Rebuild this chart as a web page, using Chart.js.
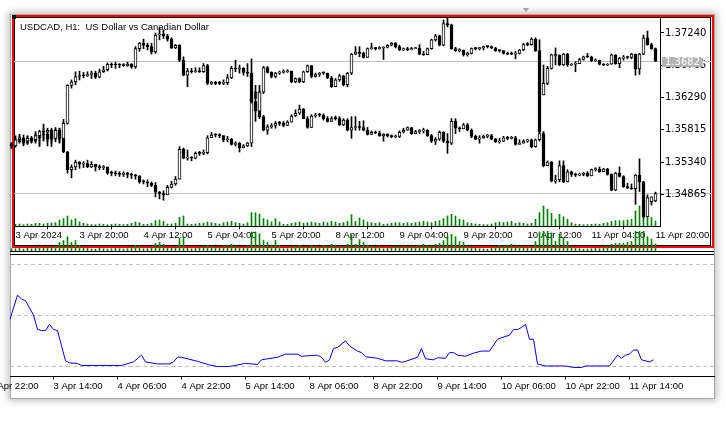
<!DOCTYPE html>
<html><head><meta charset="utf-8">
<script src="https://cdn.jsdelivr.net/npm/chart.js@4.4.1/dist/chart.umd.min.js"></script>
<style>
html,body{margin:0;padding:0;background:#fff;width:725px;height:439px;overflow:hidden;}
#stage{position:relative;width:725px;height:439px;}
.abs{position:absolute;box-sizing:border-box;}
#win{left:10px;top:14px;width:705px;height:385px;background:#fff;box-shadow:0 0 7px 2px rgba(0,0,0,0.25);border:1px solid #a8a8a8;}
#red{left:12px;top:15px;width:702px;height:233px;border:2px solid #f00;}
#blk{left:14px;top:17px;width:697px;height:229px;border:1px solid #000;}
#sq{left:12px;top:15px;width:4px;height:4px;background:#000;}
.sep{left:10px;width:704px;height:1px;background:#000;}
#tri{left:523px;top:8px;width:0;height:0;border-left:3px solid transparent;border-right:3px solid transparent;border-top:4px solid #a0a0a0;}
canvas{position:absolute;left:0;top:0;}
</style></head>
<body><div id="stage">
<div class="abs" id="win"></div>
<div class="abs" id="tri"></div>
<div class="abs" id="red"></div>
<div class="abs" id="blk"></div>
<div class="abs" id="sq"></div>
<div class="abs sep" style="top:251px"></div>
<div class="abs sep" style="top:254px"></div>
<canvas id="cMain" width="725" height="439" style="z-index:2"></canvas>
<canvas id="cLow" width="725" height="439" style="z-index:2"></canvas>
<canvas id="cVol" width="725" height="439" style="z-index:3"></canvas>
</div>
<script>
const chartTitle = 'USDCAD, H1:  US Dollar vs Canadian Dollar';
const topTickIdx = [1,17,33,49,65,81,97,113,129,145,161];
const topTickLabels = ['3 Apr 2024','3 Apr 20:00','4 Apr 12:00','5 Apr 04:00','5 Apr 20:00','8 Apr 12:00','9 Apr 04:00','9 Apr 20:00','10 Apr 12:00','11 Apr 04:00','11 Apr 20:00'];
const priceTicks = [1.34865,1.35340,1.35815,1.36290,1.36765,1.37240];
const lowTickIdx = [-5,11,27,43,59,75,91,107,123,139,155];
const lowTickLabels = ['2 Apr 22:00','3 Apr 14:00','4 Apr 06:00','4 Apr 22:00','5 Apr 14:00','8 Apr 06:00','8 Apr 22:00','9 Apr 14:00','10 Apr 06:00','10 Apr 22:00','11 Apr 14:00'];
const levelLines = [1,2,3];

const uOpen = [1.3560,1.3558,1.3567,1.3570,1.3565,1.3569,1.3567,1.3573,1.3579,1.3578,
1.3581,1.3569,1.3581,1.3569,1.3591,1.3647,1.3652,1.3660,1.3661,1.3661,
1.3663,1.3665,1.3659,1.3667,1.3670,1.3678,1.3677,1.3677,1.3677,1.3676,
1.3678,1.3674,1.3701,1.3709,1.3706,1.3704,1.3696,1.3721,1.3722,1.3720,
1.3715,1.3702,1.3706,1.3684,1.3662,1.3668,1.3667,1.3668,1.3667,1.3676,
1.3650,1.3651,1.3650,1.3650,1.3651,1.3658,1.3672,1.3671,1.3672,1.3666,
1.3665,1.3623,1.3609,1.3637,1.3673,1.3666,1.3660,1.3665,1.3666,1.3667,
1.3668,1.3652,1.3657,1.3652,1.3667,1.3676,1.3660,1.3663,1.3665,1.3665,
1.3658,1.3645,1.3655,1.3661,1.3648,1.3665,1.3693,1.3696,1.3694,1.3688,
1.3701,1.3702,1.3701,1.3702,1.3703,1.3706,1.3709,1.3704,1.3699,1.3701,
1.3699,1.3701,1.3702,1.3693,1.3692,1.3701,1.3714,1.3720,1.3706,1.3738,
1.3736,1.3701,1.3698,1.3699,1.3692,1.3694,1.3701,1.3701,1.3702,1.3704,
1.3704,1.3702,1.3698,1.3698,1.3694,1.3693,1.3693,1.3694,1.3699,1.3707,
1.3707,1.3715,1.3698,1.3633,1.3650,1.3672,1.3692,1.3691,1.3677,1.3693,
1.3677,1.3678,1.3679,1.3685,1.3689,1.3689,1.3683,1.3684,1.3678,1.3677,
1.3678,1.3692,1.3679,1.3687,1.3688,1.3688,1.3693,1.3671,1.3693,1.3717,
1.3707,1.3701];
const uHigh = [1.3562,1.3573,1.3575,1.3574,1.3573,1.3572,1.3579,1.3581,1.3590,1.3584,
1.3584,1.3585,1.3584,1.3597,1.3648,1.3655,1.3667,1.3668,1.3666,1.3667,
1.3668,1.3668,1.3671,1.3675,1.3680,1.3680,1.3681,1.3679,1.3679,1.3681,
1.3679,1.3704,1.3710,1.3715,1.3709,1.3709,1.3724,1.3732,1.3728,1.3722,
1.3717,1.3707,1.3707,1.3689,1.3672,1.3672,1.3673,1.3673,1.3679,1.3678,
1.3653,1.3653,1.3653,1.3655,1.3663,1.3675,1.3684,1.3677,1.3673,1.3679,
1.3686,1.3638,1.3647,1.3675,1.3675,1.3667,1.3666,1.3668,1.3670,1.3670,
1.3668,1.3658,1.3658,1.3668,1.3677,1.3676,1.3665,1.3666,1.3667,1.3665,
1.3660,1.3657,1.3663,1.3662,1.3666,1.3694,1.3704,1.3704,1.3696,1.3702,
1.3709,1.3703,1.3704,1.3704,1.3707,1.3710,1.3710,1.3706,1.3702,1.3703,
1.3703,1.3703,1.3707,1.3697,1.3702,1.3715,1.3722,1.3721,1.3743,1.3746,
1.3737,1.3703,1.3701,1.3699,1.3696,1.3702,1.3703,1.3703,1.3705,1.3705,
1.3705,1.3703,1.3699,1.3698,1.3696,1.3696,1.3697,1.3700,1.3709,1.3710,
1.3717,1.3717,1.3714,1.3677,1.3675,1.3693,1.3702,1.3692,1.3694,1.3694,
1.3679,1.3682,1.3687,1.3690,1.3694,1.3690,1.3686,1.3684,1.3679,1.3679,
1.3693,1.3692,1.3688,1.3691,1.3690,1.3694,1.3693,1.3694,1.3721,1.3727,
1.3709,1.3702];
const uLow = [1.3554,1.3556,1.3564,1.3560,1.3562,1.3563,1.3562,1.3557,1.3567,1.3564,
1.3557,1.3564,1.3562,1.3567,1.3590,1.3643,1.3648,1.3655,1.3658,1.3660,
1.3657,1.3657,1.3658,1.3666,1.3668,1.3673,1.3672,1.3673,1.3675,1.3675,
1.3672,1.3672,1.3697,1.3701,1.3699,1.3693,1.3694,1.3714,1.3716,1.3712,
1.3701,1.3701,1.3682,1.3661,1.3645,1.3665,1.3666,1.3666,1.3666,1.3648,
1.3648,1.3648,1.3648,1.3648,1.3648,1.3657,1.3667,1.3665,1.3662,1.3660,
1.3621,1.3594,1.3603,1.3635,1.3665,1.3658,1.3658,1.3663,1.3665,1.3666,
1.3651,1.3651,1.3651,1.3651,1.3666,1.3658,1.3659,1.3660,1.3663,1.3657,
1.3644,1.3645,1.3653,1.3646,1.3645,1.3663,1.3692,1.3689,1.3687,1.3688,
1.3700,1.3699,1.3700,1.3685,1.3702,1.3705,1.3702,1.3698,1.3698,1.3698,
1.3699,1.3701,1.3692,1.3691,1.3692,1.3700,1.3712,1.3705,1.3705,1.3733,
1.3700,1.3697,1.3696,1.3690,1.3690,1.3693,1.3699,1.3699,1.3699,1.3702,
1.3701,1.3697,1.3696,1.3693,1.3692,1.3692,1.3686,1.3693,1.3698,1.3705,
1.3706,1.3697,1.3578,1.3633,1.3648,1.3671,1.3677,1.3676,1.3676,1.3675,
1.3676,1.3667,1.3679,1.3684,1.3688,1.3682,1.3682,1.3677,1.3676,1.3676,
1.3678,1.3678,1.3673,1.3684,1.3686,1.3686,1.3662,1.3663,1.3692,1.3706,
1.3700,1.3682];
const uClose = [1.3558,1.3567,1.3570,1.3565,1.3569,1.3567,1.3573,1.3579,1.3578,1.3581,
1.3569,1.3581,1.3569,1.3591,1.3647,1.3652,1.3660,1.3661,1.3661,1.3663,
1.3665,1.3659,1.3667,1.3670,1.3678,1.3677,1.3677,1.3677,1.3676,1.3678,
1.3674,1.3701,1.3709,1.3706,1.3704,1.3696,1.3721,1.3722,1.3720,1.3715,
1.3702,1.3706,1.3684,1.3662,1.3668,1.3667,1.3668,1.3667,1.3676,1.3650,
1.3651,1.3650,1.3650,1.3651,1.3658,1.3672,1.3671,1.3672,1.3666,1.3665,
1.3623,1.3609,1.3637,1.3673,1.3666,1.3660,1.3665,1.3666,1.3667,1.3668,
1.3652,1.3657,1.3652,1.3667,1.3676,1.3660,1.3663,1.3665,1.3665,1.3658,
1.3645,1.3655,1.3661,1.3648,1.3665,1.3693,1.3696,1.3694,1.3688,1.3701,
1.3702,1.3701,1.3702,1.3703,1.3706,1.3709,1.3704,1.3699,1.3701,1.3699,
1.3701,1.3702,1.3693,1.3692,1.3701,1.3714,1.3720,1.3706,1.3738,1.3736,
1.3701,1.3698,1.3699,1.3692,1.3694,1.3701,1.3701,1.3702,1.3704,1.3704,
1.3702,1.3698,1.3698,1.3694,1.3693,1.3693,1.3694,1.3699,1.3707,1.3707,
1.3715,1.3698,1.3579,1.3650,1.3672,1.3692,1.3691,1.3677,1.3693,1.3677,
1.3678,1.3679,1.3685,1.3689,1.3689,1.3683,1.3684,1.3678,1.3677,1.3678,
1.3692,1.3679,1.3687,1.3688,1.3688,1.3693,1.3671,1.3693,1.3717,1.3707,
1.3701,1.36827];

const lOpen = [1.3560,1.3559,1.3564,1.3568,1.3562,1.3567,1.3565,1.3570,1.3574,1.3575,
1.3568,1.3572,1.3576,1.3568,1.3549,1.3523,1.3527,1.3534,1.3531,1.3532,
1.3527,1.3531,1.3527,1.3526,1.3527,1.3518,1.3518,1.3517,1.3516,1.3517,
1.3516,1.3515,1.3514,1.3505,1.3505,1.3503,1.3500,1.3490,1.3488,1.3486,
1.3497,1.3502,1.3509,1.3553,1.3540,1.3541,1.3540,1.3547,1.3547,1.3548,
1.3570,1.3574,1.3574,1.3573,1.3567,1.3568,1.3560,1.3562,1.3555,1.3558,
1.3562,1.3628,1.3637,1.3601,1.3581,1.3586,1.3588,1.3591,1.3591,1.3588,
1.3593,1.3602,1.3606,1.3612,1.3598,1.3585,1.3602,1.3603,1.3603,1.3598,
1.3594,1.3598,1.3598,1.3589,1.3596,1.3581,1.3585,1.3586,1.3585,1.3581,
1.3575,1.3578,1.3577,1.3573,1.3575,1.3573,1.3571,1.3572,1.3578,1.3581,
1.3585,1.3576,1.3579,1.3580,1.3581,1.3573,1.3565,1.3568,1.3578,1.3565,
1.3562,1.3594,1.3584,1.3583,1.3589,1.3581,1.3572,1.3568,1.3570,1.3572,
1.3573,1.3568,1.3564,1.3565,1.3570,1.3569,1.3570,1.3560,1.3562,1.3565,
1.3567,1.3557,1.3567,1.3576,1.3529,1.3534,1.3506,1.3508,1.3529,1.3505,
1.3520,1.3516,1.3515,1.3516,1.3518,1.3514,1.3523,1.3524,1.3520,1.3524,
1.3516,1.3493,1.3518,1.3513,1.3498,1.3496,1.3495,1.3515,1.3505,1.3454,
1.3476,1.3477];
const lHigh = [1.3563,1.3570,1.3573,1.3569,1.3572,1.3570,1.3576,1.3578,1.3584,1.3579,
1.3581,1.3583,1.3584,1.3570,1.3550,1.3530,1.3537,1.3535,1.3535,1.3537,
1.3535,1.3531,1.3530,1.3529,1.3527,1.3521,1.3521,1.3520,1.3520,1.3519,
1.3518,1.3516,1.3514,1.3508,1.3508,1.3505,1.3504,1.3491,1.3492,1.3500,
1.3506,1.3513,1.3557,1.3555,1.3552,1.3542,1.3549,1.3550,1.3552,1.3573,
1.3578,1.3576,1.3576,1.3573,1.3572,1.3569,1.3564,1.3563,1.3560,1.3563,
1.3648,1.3647,1.3639,1.3603,1.3589,1.3591,1.3594,1.3594,1.3594,1.3595,
1.3604,1.3611,1.3618,1.3613,1.3601,1.3604,1.3606,1.3606,1.3605,1.3601,
1.3601,1.3602,1.3601,1.3598,1.3598,1.3601,1.3601,1.3594,1.3595,1.3585,
1.3580,1.3580,1.3580,1.3576,1.3576,1.3574,1.3574,1.3580,1.3584,1.3586,
1.3585,1.3581,1.3582,1.3584,1.3582,1.3575,1.3570,1.3580,1.3579,1.3576,
1.3598,1.3598,1.3586,1.3591,1.3591,1.3583,1.3574,1.3573,1.3574,1.3575,
1.3575,1.3569,1.3569,1.3572,1.3572,1.3572,1.3572,1.3567,1.3567,1.3568,
1.3568,1.3568,1.3579,1.3579,1.3536,1.3535,1.3515,1.3536,1.3536,1.3523,
1.3521,1.3518,1.3518,1.3519,1.3520,1.3524,1.3526,1.3527,1.3525,1.3525,
1.3517,1.3519,1.3527,1.3514,1.3503,1.3502,1.3516,1.3539,1.3506,1.3486,
1.3483,1.3490];
const lLow = [1.3555,1.3559,1.3562,1.3558,1.3560,1.3562,1.3564,1.3559,1.3565,1.3558,
1.3562,1.3567,1.3563,1.3548,1.3518,1.3511,1.3523,1.3525,1.3526,1.3526,
1.3526,1.3521,1.3523,1.3523,1.3516,1.3514,1.3514,1.3513,1.3513,1.3511,
1.3510,1.3509,1.3503,1.3502,1.3498,1.3498,1.3483,1.3480,1.3478,1.3486,
1.3496,1.3500,1.3509,1.3539,1.3537,1.3536,1.3539,1.3544,1.3545,1.3546,
1.3570,1.3571,1.3570,1.3564,1.3564,1.3559,1.3558,1.3549,1.3555,1.3557,
1.3557,1.3628,1.3598,1.3580,1.3575,1.3584,1.3584,1.3588,1.3586,1.3588,
1.3593,1.3601,1.3604,1.3598,1.3584,1.3585,1.3600,1.3601,1.3596,1.3593,
1.3594,1.3596,1.3588,1.3588,1.3580,1.3569,1.3581,1.3581,1.3580,1.3574,
1.3575,1.3576,1.3572,1.3565,1.3571,1.3570,1.3570,1.3570,1.3577,1.3581,
1.3575,1.3576,1.3576,1.3577,1.3572,1.3563,1.3560,1.3566,1.3563,1.3547,
1.3560,1.3576,1.3579,1.3583,1.3580,1.3570,1.3567,1.3562,1.3569,1.3570,
1.3567,1.3563,1.3562,1.3564,1.3567,1.3568,1.3559,1.3560,1.3562,1.3563,
1.3555,1.3556,1.3565,1.3527,1.3529,1.3505,1.3503,1.3505,1.3504,1.3505,
1.3513,1.3513,1.3514,1.3514,1.3513,1.3514,1.3521,1.3519,1.3520,1.3515,
1.3492,1.3492,1.3512,1.3497,1.3495,1.3494,1.3472,1.3491,1.3452,1.3454,
1.3471,1.3476];
const lClose = [1.3559,1.3564,1.3568,1.3562,1.3567,1.3565,1.3570,1.3574,1.3575,1.3568,
1.3572,1.3576,1.3568,1.3549,1.3523,1.3527,1.3534,1.3531,1.3532,1.3527,
1.3531,1.3527,1.3526,1.3527,1.3518,1.3518,1.3517,1.3516,1.3517,1.3516,
1.3515,1.3514,1.3505,1.3505,1.3503,1.3500,1.3490,1.3488,1.3486,1.3497,
1.3502,1.3509,1.3553,1.3540,1.3541,1.3540,1.3547,1.3547,1.3548,1.3570,
1.3574,1.3574,1.3573,1.3567,1.3568,1.3560,1.3562,1.3555,1.3558,1.3562,
1.3628,1.3637,1.3601,1.3581,1.3586,1.3588,1.3591,1.3591,1.3588,1.3593,
1.3602,1.3606,1.3612,1.3598,1.3585,1.3602,1.3603,1.3603,1.3598,1.3594,
1.3598,1.3598,1.3589,1.3596,1.3581,1.3585,1.3586,1.3585,1.3581,1.3575,
1.3578,1.3577,1.3573,1.3575,1.3573,1.3571,1.3572,1.3578,1.3581,1.3585,
1.3576,1.3579,1.3580,1.3581,1.3573,1.3565,1.3568,1.3578,1.3565,1.3562,
1.3594,1.3584,1.3583,1.3589,1.3581,1.3572,1.3568,1.3570,1.3572,1.3573,
1.3568,1.3564,1.3565,1.3570,1.3569,1.3570,1.3560,1.3562,1.3565,1.3567,
1.3557,1.3567,1.3576,1.3529,1.3534,1.3506,1.3508,1.3529,1.3505,1.3520,
1.3516,1.3515,1.3516,1.3518,1.3514,1.3523,1.3524,1.3520,1.3524,1.3516,
1.3493,1.3518,1.3513,1.3498,1.3496,1.3495,1.3515,1.3505,1.3454,1.3482,
1.3483,1.3488];

const tickVolume = [500,500,600,400,600,500,800,800,600,800,
900,1000,1800,2200,3000,1800,2200,1200,800,600,
400,400,600,500,400,500,600,500,400,500,
800,1200,1000,500,500,800,1600,1800,1400,600,
600,800,2600,3000,600,500,600,800,900,1200,
1000,800,600,1000,1200,1400,1000,800,600,1000,
4000,4000,3600,2200,1800,1200,2200,1200,500,500,
800,1000,1200,800,1000,1200,1000,800,1200,1000,
1400,1200,800,1000,1400,3400,1400,2400,1800,1200,
1000,800,1000,500,600,800,1000,1000,800,1000,
800,1000,1200,1400,1200,1000,1400,1600,2200,3000,
3500,3000,2000,1800,1000,800,600,500,400,400,
600,1000,1200,1000,1200,1400,800,1000,800,600,
800,2000,4000,6000,5000,3800,2000,3500,2800,2000,
1000,600,500,400,400,500,600,500,800,1000,
1400,1600,1600,1600,1800,2000,4500,6000,4500,3000,
2500,1500];

const indBar = [0,2,3,4,6,7,8,9,10,11,12,14,15,17,18,28,31,33,34,37,40,41,42,43,47,50,52,55,59,62,63,67,69,72,73,77,78,79,80,81,82,84,85,87,88,89,92,94,97,98,99,102,103,104,106,107,109,110,111,112,114,116,118,120,122,123,125,126,127,128,129,130,131,132,134,139,141,143,144,150,152,153,154,155,156,157,158,160,161];
const indValue = [1.90,2.40,2.32,2.29,2.01,1.73,1.71,1.71,1.83,1.73,1.71,1.12,1.08,1.07,1.03,1.03,1.10,1.23,1.10,1.06,1.06,1.10,1.19,1.19,1.11,1.04,1.01,1.01,1.07,1.05,1.14,1.19,1.25,1.25,1.21,1.23,1.19,1.09,1.14,1.36,1.38,1.51,1.41,1.31,1.28,1.20,1.17,1.12,1.12,1.09,1.11,1.19,1.36,1.16,1.14,1.18,1.17,1.28,1.28,1.23,1.21,1.27,1.31,1.31,1.54,1.57,1.62,1.73,1.73,1.77,1.83,1.54,1.54,1.06,1.02,1.02,0.99,0.99,1.02,1.02,1.23,1.17,1.23,1.25,1.33,1.33,1.14,1.10,1.14];

Chart.defaults.animation = false;
const N = uClose.length;
const bars = Array.from({length: N}, (_, i) => i);
const labelFont = {family: 'Liberation Sans', size: 9.5};
const priceFont = {family: 'DejaVu Sans', size: 10};
function noPad(s){ s.paddingLeft = 0; s.paddingRight = 0; s.paddingTop = 0; s.paddingBottom = 0; }

function candleSets(o, h, l, c, ord){
  return [
    {type:'bar', data: bars.map(i => ({x:i, y:[l[i], h[i]]})), backgroundColor:'#000', borderWidth:0,
     barThickness:1, grouped:false, order:ord+1, clip:false, yAxisID:'y'},
    {type:'bar', data: bars.map(i => ({x:i, y:[o[i], c[i]]})),
     backgroundColor: bars.map(i => c[i] > o[i] ? '#ffffff' : '#000000'),
     borderColor:'#000', borderWidth:1, borderSkipped:false, minBarLength:1,
     barThickness:3, grouped:false, order:ord, clip:false, yAxisID:'y'}
  ];
}

const mainDeco = {
  id:'mainDeco',
  beforeDraw(chart){
    const {ctx, chartArea:a, scales:{y}} = chart;
    ctx.save(); ctx.strokeStyle = '#c0c0c0'; ctx.lineWidth = 1;
    [uClose[N-1], lClose[N-1]].forEach(v => {
      const py = Math.round(y.getPixelForValue(v)) + 0.5;
      ctx.beginPath(); ctx.moveTo(a.left, py); ctx.lineTo(712, py); ctx.stroke();
    });
    ctx.restore();
  },
  beforeDatasetsDraw(chart){
    const ctx = chart.ctx;
    ctx.save(); ctx.fillStyle = '#000'; ctx.font = '9.5px "Liberation Sans"';
    ctx.textBaseline = 'alphabetic'; ctx.textAlign = 'left';
    ctx.fillText(chartTitle, 20, 29.5);
    ctx.restore();
  },
  afterDraw(chart){
    const {ctx, scales:{y}} = chart;
    const v = uClose[N-1];
    const py = y.getPixelForValue(v);
    ctx.save();
    ctx.fillStyle = '#b4b4b4';
    ctx.fillRect(662, Math.floor(py) - 4, 41, 10);
    ctx.fillStyle = '#fff'; ctx.font = '10px "DejaVu Sans"';
    ctx.textBaseline = 'middle'; ctx.textAlign = 'left';
    ctx.fillText(v.toFixed(5), 665, Math.floor(py) + 1);
    ctx.restore();
  }
};

new Chart(document.getElementById('cMain'), {
  type:'bar',
  data:{datasets:[
    {type:'bar', data: bars.map(i => ({x:i, y:tickVolume[i]})), backgroundColor:'#008000', borderWidth:0,
     barThickness:1, grouped:false, order:10, yAxisID:'yv'},
    ...candleSets(lOpen, lHigh, lLow, lClose, 3),
    ...candleSets(uOpen, uHigh, uLow, uClose, 1)
  ]},
  options:{
    responsive:false, devicePixelRatio:1, events:[],
    layout:{padding:{left:14, right:15, top:18, bottom:193}, autoPadding:false},
    plugins:{legend:{display:false}, tooltip:{enabled:false}},
    scales:{
      x:{type:'linear', min:0.625, max:162.125, offset:false,
        afterBuildTicks: s => { s.ticks = topTickIdx.map(v => ({value:v})); },
        afterFit: s => { s.height = 20; noPad(s); },
        ticks:{autoSkip:false, maxRotation:0, minRotation:0, align:'start', padding:0, color:'#000', font:labelFont,
          callback: v => topTickLabels[topTickIdx.indexOf(v)]},
        grid:{display:true, drawOnChartArea:false, drawTicks:true, tickLength:3.5, color:'#000', tickColor:'#000'},
        border:{display:true, color:'#000', width:1}},
      y:{type:'linear', position:'right', min:1.3440174, max:1.3746059,
        afterBuildTicks: s => { s.ticks = priceTicks.map(v => ({value:v})); },
        afterFit: s => { s.width = 50; noPad(s); },
        ticks:{autoSkip:false, padding:1, color:'#000', font:priceFont, callback: v => Number(v).toFixed(5)},
        grid:{display:true, drawOnChartArea:false, drawTicks:true, tickLength:4, color:'#000', tickColor:'#000'},
        border:{display:true, color:'#000', width:1}},
      yv:{type:'linear', display:false, min:0, max:62400}
    }
  },
  plugins:[mainDeco]
});

new Chart(document.getElementById('cVol'), {
  type:'bar',
  data:{datasets:[{data: bars.map(i => ({x:i, y:tickVolume[i]})), backgroundColor:'#008000', borderWidth:0,
    barThickness:1, minBarLength:2, grouped:false}]},
  options:{
    responsive:false, devicePixelRatio:1, events:[],
    layout:{padding:{left:10, right:65, top:231, bottom:188}, autoPadding:false},
    plugins:{legend:{display:false}, tooltip:{enabled:false}},
    scales:{
      x:{type:'linear', display:false, min:-0.375, max:162.125, offset:false},
      y:{type:'linear', display:false, min:0, max:4200}
    }
  }
});

new Chart(document.getElementById('cLow'), {
  type:'line',
  data:{datasets:[{data: indBar.map((b, k) => ({x:b, y:indValue[k]})), borderColor:'#0000ff', borderWidth:1,
    pointRadius:0, tension:0, fill:false}]},
  options:{
    responsive:false, devicePixelRatio:1, events:[],
    layout:{padding:{left:10, right:11, top:255, bottom:43}, autoPadding:false},
    plugins:{legend:{display:false}, tooltip:{enabled:false}},
    scales:{
      x:{type:'linear', min:0.125, max:176.125, offset:false,
        afterBuildTicks: s => { s.ticks = lowTickIdx.map(v => ({value:v})); },
        afterFit: s => { s.height = 20; noPad(s); },
        ticks:{autoSkip:false, maxRotation:0, minRotation:0, align:'start', padding:1, color:'#000', font:labelFont,
          callback: v => lowTickLabels[lowTickIdx.indexOf(v)]},
        grid:{display:true, drawOnChartArea:false, drawTicks:true, tickLength:3.5, color:'#000', tickColor:'#000'},
        border:{display:true, color:'#000', width:1}},
      y:{type:'linear', position:'left', min:0.8247, max:3.1811,
        afterBuildTicks: s => { s.ticks = levelLines.map(v => ({value:v})); },
        afterFit: s => { s.width = 0; noPad(s); },
        ticks:{display:false},
        grid:{display:true, drawOnChartArea:true, drawTicks:false, color:'#c0c0c0', lineWidth:1},
        border:{display:false, dash:[4,3]}}
    }
  }
});
</script>
</body></html>
